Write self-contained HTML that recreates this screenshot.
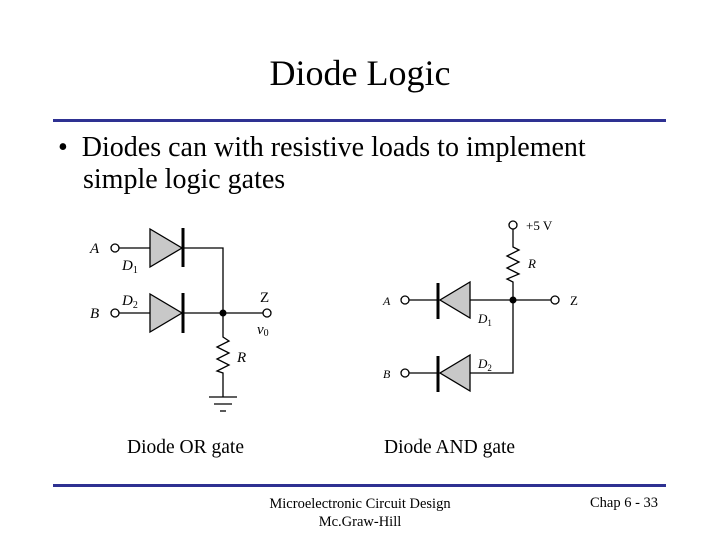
<!DOCTYPE html>
<html><head><style>
body{margin:0;background:#fff;}
.t{position:absolute;font-family:"Liberation Serif",serif;color:#000;white-space:nowrap;}
</style></head><body>
<div style="position:relative;width:720px;height:540px;overflow:hidden;background:#fff">
<div class="t" style="left:0;width:720px;text-align:center;top:52px;font-size:36px;">Diode Logic</div>
<div style="position:absolute;left:53px;top:119px;width:613px;height:3px;background:#2e3192"></div>
<div class="t" style="left:58px;top:132px;font-size:28px;line-height:32px;">•&nbsp; Diodes can with resistive loads to implement</div>
<div class="t" style="left:83px;top:164px;font-size:28px;line-height:32px;">simple logic gates</div>
<svg style="position:absolute;left:0;top:0" width="720" height="540" font-family="Liberation Serif" font-style="italic">
<g stroke="#000" stroke-width="1.3" fill="none">
<circle cx="115" cy="248" r="4"/><circle cx="115" cy="313" r="4"/>
<line x1="119" y1="248" x2="150" y2="248"/><line x1="119" y1="313" x2="150" y2="313"/>
<polygon points="150,229 150,267 182,248" fill="#c8c8c8"/>
<polygon points="150,294 150,332 182,313" fill="#c8c8c8"/>
<line x1="183" y1="228" x2="183" y2="267" stroke-width="3"/>
<line x1="183" y1="293" x2="183" y2="333" stroke-width="3"/>
<polyline points="183,248 223,248 223,335"/>
<line x1="183" y1="313" x2="263" y2="313"/>
<circle cx="267" cy="313" r="4"/>
<polyline points="223,335 223,337 229,341 217,347 229,353 217,359 229,365 217,371 223,373 223,397"/>
<line x1="209" y1="397" x2="237" y2="397"/><line x1="214" y1="404" x2="232" y2="404"/><line x1="220" y1="411" x2="226" y2="411"/>
<circle cx="513" cy="225" r="4"/>
<polyline points="513,229 513,247 519,250 507,256 519,262 507,268 519,274 507,279 513,282 513,373 470,373"/>
<line x1="409" y1="300" x2="438" y2="300"/><line x1="470" y1="300" x2="551" y2="300"/>
<circle cx="405" cy="300" r="4"/><circle cx="555" cy="300" r="4"/>
<polygon points="470,282 470,318 440,300" fill="#c8c8c8"/>
<line x1="438" y1="283" x2="438" y2="319" stroke-width="3"/>
<line x1="409" y1="373" x2="438" y2="373"/><circle cx="405" cy="373" r="4"/>
<polygon points="470,355 470,391 440,373" fill="#c8c8c8"/>
<line x1="438" y1="356" x2="438" y2="392" stroke-width="3"/>
</g>
<circle cx="223" cy="313" r="3.5"/><circle cx="513" cy="300" r="3.5"/>
<g font-size="15">
<text x="90" y="253">A</text><text x="90" y="318">B</text>
<text x="122" y="270">D<tspan font-size="10" font-style="normal" dy="3">1</tspan></text>
<text x="122" y="305">D<tspan font-size="10" font-style="normal" dy="3">2</tspan></text>
<text x="260" y="302" font-style="normal">Z</text>
<text x="257" y="334">v<tspan font-size="10" font-style="normal" dy="2">0</tspan></text>
<text x="237" y="362">R</text>
<text x="526" y="230" font-style="normal" font-size="13">+5 V</text>
<text x="528" y="268" font-size="13">R</text>
<text x="383" y="305" font-size="12">A</text><text x="383" y="378" font-size="12">B</text>
<text x="478" y="323" font-size="13">D<tspan font-size="9" font-style="normal" dy="3">1</tspan></text>
<text x="478" y="368" font-size="13">D<tspan font-size="9" font-style="normal" dy="3">2</tspan></text>
<text x="570" y="305" font-size="13" font-style="normal">Z</text>
</g>
</svg>
<div class="t" style="left:127px;top:437px;font-size:19.5px;">Diode OR gate</div>
<div class="t" style="left:384px;top:437px;font-size:19.5px;">Diode AND gate</div>
<div style="position:absolute;left:53px;top:484px;width:613px;height:3px;background:#2e3192"></div>
<div class="t" style="left:240px;top:495px;width:240px;text-align:center;font-size:14.5px;line-height:18px;">Microelectronic Circuit Design<br>Mc.Graw-Hill</div>
<div class="t" style="left:590px;top:495px;font-size:14.5px;">Chap 6 - 33</div>
</div>
</body></html>
